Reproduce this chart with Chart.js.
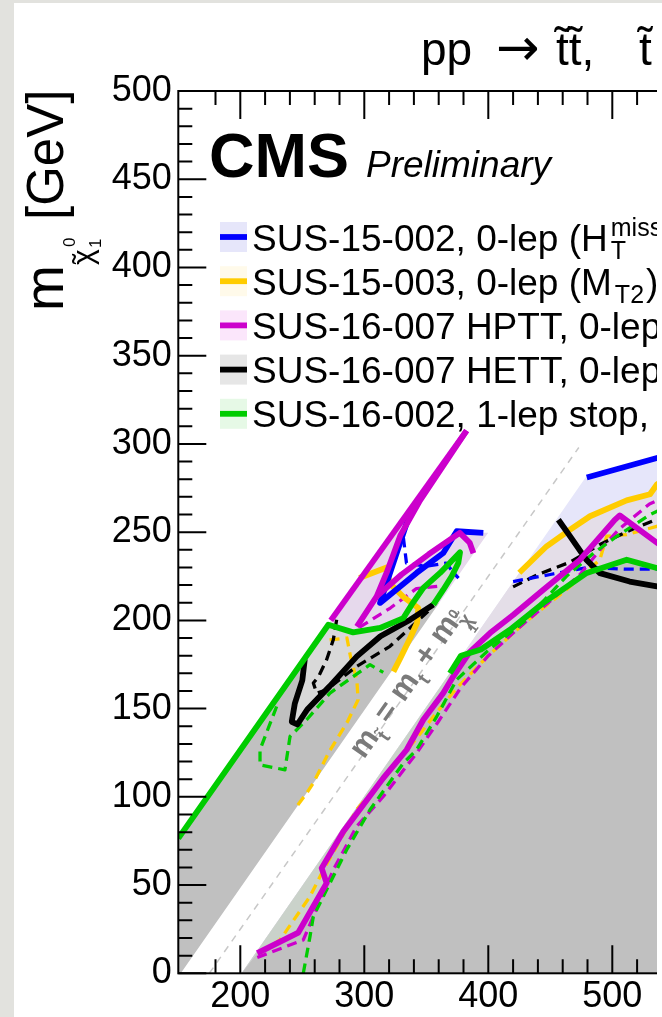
<!DOCTYPE html>
<html><head><meta charset="utf-8">
<script src="https://cdn.jsdelivr.net/npm/chart.js@4.4.0/dist/chart.umd.min.js"></script>
<style>
html,body{margin:0;padding:0;background:#e2e2de;width:662px;height:1017px;overflow:hidden;}
#paper{position:absolute;left:14px;top:3px;width:648px;height:1014px;background:#fff;}
#clip{position:absolute;left:0;top:0;width:657px;height:1017px;overflow:hidden;}
#c{position:absolute;left:0;top:0;}
</style></head><body>
<div id="paper"></div>
<div id="clip"><canvas id="c" width="720" height="1017"></canvas></div>
<script>
// ---------------- axis ranges and tick labels ----------------
const xRange = [150, 560];
const yRange = [0, 500];
const xTickLabels = [200, 300, 400, 500];
const yTickLabels = [0, 50, 100, 150, 200, 250, 300, 350, 400, 450, 500];

// ---------------- contours (m_stop, m_LSP) ----------------
// SUS-15-002 (blue)
const blueObsLeftX = [332, 334.2, 312.7, 342.2, 363.7, 374.5, 396];
const blueObsLeftY = [258, 255.2, 209.9, 226.9, 238.2, 250.5, 249.6];
const blueObsRightX = [479.4, 536, 560];
const blueObsRightY = [281, 292, 297];
const blueExpLeftX = [331.5, 334, 350, 366, 372, 376];
const blueExpLeftY = [247, 232.5, 230.7, 232.5, 227, 224];
const blueExpRightX = [420, 450, 480, 512, 536, 560];
const blueExpRightY = [222, 226, 230, 229, 229, 229];
// SUS-15-003 (yellow)
const yelObsLeftX = [296, 318, 320.5, 332, 343.6, 342.5, 337, 329, 323.5];
const yelObsLeftY = [224, 230, 221, 213, 207, 198.5, 190, 178.5, 171];
const yelObsRightX = [425, 447, 466, 482, 511.6, 530.4, 536, 560];
const yelObsRightY = [227, 242, 251.4, 259, 268, 271.5, 277, 288];
const yelExpLeftX = [272, 286, 289, 294, 295, 286, 272, 259, 253.5, 246];
const yelExpLeftY = [189, 190, 179, 166, 155, 142, 126, 108, 102, 95];
const yelExpRightX = [215.9, 232, 256.2, 267, 277.7, 293.8, 310, 326, 342, 358, 375, 400, 430, 463, 490, 495.5, 511.6, 535.8, 560];
const yelExpRightY = [11.4, 18.9, 43.5, 58.6, 71.9, 92.7, 105.9, 119.1, 133, 147.5, 162, 180, 199, 217.4, 234.4, 247.7, 248.6, 253.3, 258];
// SUS-16-007 HPTT (magenta)
const magObsOuterX = [273, 382.5];
const magObsOuterY = [200, 307.5];
const magObsInnerX = [382.5, 345, 329, 318, 310, 294];
const magObsInnerY = [307.5, 268, 248, 227, 213.6, 196.5];
const magObsBranchX = [310, 330, 352, 377, 385, 388];
const magObsBranchY = [213.6, 226, 237.5, 249.6, 244, 238];
const magObsRightX = [213.7, 246.8, 269.6, 265.6, 283.1, 299.2, 315.3, 334.2, 347.6, 363.7, 371.8, 385, 401.4, 420, 444.4, 474, 502, 506, 536, 560];
const magObsRightY = [11.4, 23.1, 51.1, 59.6, 80.4, 95.5, 110.6, 126.7, 143.7, 158.8, 168.3, 182, 192.8, 203, 217.4, 234.4, 257, 259.5, 244, 232];
const magExpLeftX = [296, 321, 342, 361];
const magExpLeftY = [196, 207, 218, 219.5];
const magExpRightX = [213.7, 250.8, 258.9, 275, 293.8, 315.3, 342.2, 360, 378, 400, 425, 450, 474, 490, 506, 530, 560];
const magExpRightY = [9, 18.9, 32.2, 58.6, 83.2, 100.2, 124.8, 143, 162, 180, 196, 211, 226, 240, 252, 266, 275];
// SUS-16-007 HETT (black)
const blkObsLeftX = [252, 250, 244, 241.5, 246, 254, 272, 294, 313, 337, 355.7];
const blkObsLeftY = [178, 166, 153, 142.5, 141, 149.5, 162.6, 179.6, 191, 200.4, 208.9];
const blkObsRightX = [456.5, 466, 479, 490, 514, 536, 560];
const blkObsRightY = [257, 247.6, 234.4, 226.8, 222, 219.3, 217];
const blkExpLeftX = [277.7, 275, 269.6, 263, 258.9, 261.6, 269.6, 293.8, 320.7, 353];
const blkExpLeftY = [200.3, 189, 177.7, 168, 164.5, 158.8, 160.7, 173.9, 185.3, 206.1];
const blkExpRightX = [420, 440, 466, 490, 514, 533, 560];
const blkExpRightY = [219, 226, 233, 243, 251, 256.5, 262];
// SUS-16-002 (green)
const grnObsLeftX = [150, 271, 291, 312.7, 331.5, 338.2, 347.6, 361.1, 377.2, 375.8, 370.5, 363.7, 355.7];
const grnObsLeftY = [76.5, 197.5, 193.2, 195.7, 201.3, 208.9, 218.4, 226.9, 238.6, 232.5, 225, 217.4, 208.9];
const grnObsRightX = [369, 378, 394, 417.5, 444.4, 479.4, 511.6, 535.8, 560];
const grnObsRightY = [170, 180, 183.5, 194.7, 209.9, 226.9, 234.4, 229.7, 226];
const grnExpLeftX = [229.3, 215.9, 215.9, 236, 240.1, 253.5, 272.3, 304.6, 315.3];
const grnExpLeftY = [151.2, 126.7, 118.1, 115.3, 134.2, 143.7, 158.8, 174.9, 170.5];
const grnExpRightX = [250.8, 256.2, 258.9, 269.6, 285.8, 304.6, 331.5, 342.2, 358, 374.5, 400, 430, 463, 485, 503.5, 530.4, 560];
const grnExpRightY = [0, 20.8, 32.2, 47.3, 70, 92.7, 119.1, 126.7, 145, 166.4, 183, 200, 225, 238.2, 247.6, 259.9, 270];
// m_stop = m_top + m_LSP
const diagX = [175, 473];
const diagY = [0, 298];

// ---------------- filled areas ----------------
const fillBlueX = [201, 478.4, 536, 560, 560];
const fillBlueY = [0, 281, 292, 297, 0];
const fillYelX = [201, 425, 447, 466, 482, 511.6, 530.4, 536, 560, 560];
const fillYelY = [0, 227, 242, 251.4, 259, 268, 271.5, 277, 288, 0];
const fillMagX = [201].concat(magObsRightX, [560]);
const fillMagY = [0].concat(magObsRightY, [0]);
const fillStripX = [201, 370.8, 371.8, 363.7, 347.6, 334.2, 315.3, 299.2, 283.1, 265.6, 269.6, 246.8, 213.7];
const fillStripY = [0, 172, 168.3, 158.8, 143.7, 126.7, 110.6, 95.5, 80.4, 59.6, 51.1, 23.1, 11.4];
const fillGreyRX = [201, 213.7, 246.8, 269.6, 265.6, 283.1, 299.2, 315.3, 334.2, 347.6, 363.7, 371.8, 378, 394, 417.5, 444.4, 479.4, 511.6, 535.8, 560, 560];
const fillGreyRY = [0, 11.4, 23.1, 51.1, 59.6, 80.4, 95.5, 110.6, 126.7, 143.7, 158.8, 168.3, 180, 183.5, 194.7, 209.9, 226.9, 234.4, 229.7, 226, 0];
const fillSpikeX = [252, 273, 382.5, 345, 329, 318, 310, 330, 352, 377, 385, 399.9, 360.5];
const fillSpikeY = [178, 200, 307.5, 268, 248, 227, 213.6, 226, 237.5, 249.6, 249.7, 249.6, 210];
const fillLightX = [252, 271, 291, 312.7, 331.5, 338.2, 347.6, 361.1, 377.2, 375.8, 370.5, 363.7, 355.7, 337, 313, 294, 272, 254, 246, 241.5, 244];
const fillLightY = [178, 197.5, 193.2, 195.7, 201.3, 208.9, 218.4, 226.9, 238.6, 232.5, 225, 217.4, 208.9, 200.4, 191, 179.6, 162.6, 149.5, 141, 142.5, 153];
const fillDarkX = [150, 152, 360.5, 355.7, 337, 313, 294, 272, 254, 246, 241.5, 244, 250, 252, 150];
const fillDarkY = [0, 0, 210, 208.9, 200.4, 191, 179.6, 162.6, 149.5, 141, 142.5, 153, 166, 178, 76.5];

// ---------------- legend ----------------
const legendLabels = [
  ['SUS-15-002, 0-lep (H', 'T', 'miss', '), 2.3 fb⁻¹'],
  ['SUS-15-003, 0-lep (M', 'T2', '', '), 2.3 fb⁻¹'],
  ['SUS-16-007 HPTT, 0-lep stop, 12.9 fb⁻¹', '', '', ''],
  ['SUS-16-007 HETT, 0-lep stop, 12.9 fb⁻¹', '', '', ''],
  ['SUS-16-002, 1-lep stop, 12.9 fb⁻¹', '', '', '']
];
const legendLine = ['#0000ff', '#ffcc00', '#cc00cc', '#000000', '#00cc00'];
const legendFill = ['#e6e6fa', '#fffaea', '#fbe6fb', '#e6e6e6', '#e6f9e6'];

// ---------------- build datasets ----------------
const FONT = '"Liberation Sans", Arial, Helvetica, sans-serif';
function pts(xs, ys) { return xs.map((v, i) => ({x: v, y: ys[i]})); }
function lineDs(xs, ys, color, w, dashed, order) {
  return {data: pts(xs, ys), borderColor: color, borderWidth: w, borderDash: dashed ? [10, 6] : [],
    pointRadius: 0, fill: false, tension: 0, order: order, borderJoinStyle: 'round', borderCapStyle: 'butt'};
}
function fillDs(xs, ys, color, order) {
  return {data: pts(xs, ys), borderColor: 'rgba(0,0,0,0)', borderWidth: 0, backgroundColor: color,
    pointRadius: 0, fill: 'shape', tension: 0, order: order};
}
const OBS = 5.8, EXP = 3.3;
const datasets = [
  fillDs(fillBlueX, fillBlueY, '#e6e6fa', 30),
  fillDs(fillYelX, fillYelY, '#e4dee8', 29),
  fillDs(fillMagX, fillMagY, '#d9d2dc', 28),
  fillDs(fillStripX, fillStripY, '#cad2ca', 27),
  fillDs(fillGreyRX, fillGreyRY, '#c0c0c0', 26),
  fillDs(fillSpikeX, fillSpikeY, '#e6d9ec', 25),
  fillDs(fillLightX, fillLightY, '#d9d9d9', 24),
  fillDs(fillDarkX, fillDarkY, '#c0c0c0', 23),
  Object.assign(lineDs(diagX, diagY, '#c8c8c8', 1.5, false, 22), {borderDash: [7, 6]}),
  lineDs(blueExpLeftX, blueExpLeftY, '#0000ff', EXP, true, 12),
  lineDs(blueExpRightX, blueExpRightY, '#0000ff', EXP, true, 12),
  lineDs(yelExpLeftX, yelExpLeftY, '#ffcc00', EXP, true, 13),
  lineDs(yelExpRightX, yelExpRightY, '#ffcc00', EXP, true, 13),
  lineDs(magExpLeftX, magExpLeftY, '#cc00cc', EXP, true, 11),
  lineDs(magExpRightX, magExpRightY, '#cc00cc', EXP, true, 11),
  lineDs(blkExpLeftX, blkExpLeftY, '#000000', EXP, true, 12),
  lineDs(blkExpRightX, blkExpRightY, '#000000', EXP, true, 12),
  lineDs(grnExpLeftX, grnExpLeftY, '#00cc00', EXP, true, 10),
  lineDs(grnExpRightX, grnExpRightY, '#00cc00', EXP, true, 10),
  lineDs(yelObsLeftX, yelObsLeftY, '#ffcc00', OBS, false, 8),
  lineDs(yelObsRightX, yelObsRightY, '#ffcc00', OBS, false, 8),
  lineDs(blueObsLeftX, blueObsLeftY, '#0000ff', OBS, false, 7),
  lineDs(blueObsRightX, blueObsRightY, '#0000ff', OBS, false, 7),
  lineDs(blkObsLeftX, blkObsLeftY, '#000000', OBS, false, 6),
  lineDs(blkObsRightX, blkObsRightY, '#000000', OBS, false, 6),
  lineDs(magObsOuterX, magObsOuterY, '#cc00cc', OBS, false, 5),
  lineDs(magObsInnerX, magObsInnerY, '#cc00cc', OBS, false, 5),
  lineDs(magObsBranchX, magObsBranchY, '#cc00cc', OBS, false, 5),
  lineDs(magObsRightX, magObsRightY, '#cc00cc', OBS, false, 5),
  lineDs(grnObsLeftX, grnObsLeftY, '#00cc00', OBS, false, 4),
  lineDs(grnObsRightX, grnObsRightY, '#00cc00', OBS, false, 4)
];

// ---------------- text helpers ----------------
function fontOf(p) { return (p.style || '') + ' ' + p.size + 'px ' + (p.family || FONT); }
function drawRuns(ctx, x0, y0, parts) {
  let x = x0;
  for (const p of parts) {
    ctx.font = fontOf(p);
    const px = (p.at !== undefined) ? x0 + p.at : x;
    ctx.fillText(p.t, px, y0 + (p.dy || 0));
    const w = ctx.measureText(p.t).width;
    if (!p.stack) x = px + w;
  }
  return x - x0;
}
function measureRuns(ctx, parts) {
  let w = 0;
  for (const p of parts) { ctx.font = fontOf(p); if (!p.stack) w += ctx.measureText(p.t).width; }
  return w;
}

const decor = {
  id: 'decor',
  afterDatasetsDraw(chart) {
    const {ctx, chartArea: a, scales: {x, y}} = chart;
    ctx.save();
    // band label
    const cx = x.getPixelForValue(333), cy = y.getPixelForValue(165);
    const ang = -Math.atan2(y.getPixelForValue(0) - y.getPixelForValue(100), x.getPixelForValue(100) - x.getPixelForValue(0));
    ctx.translate(cx, cy); ctx.rotate(ang);
    ctx.fillStyle = '#7a7a7a'; ctx.textBaseline = 'alphabetic';
    const band = [
      {t: 'm', size: 31, style: 'bold'}, {t: 't̃', size: 20, dy: 9, style: 'bold'},
      {t: ' = m', size: 31, style: 'bold'}, {t: 't', size: 20, dy: 9, style: 'bold'},
      {t: ' + m', size: 31, style: 'bold'}, {t: '0', size: 14, dy: -6, style: 'bold', stack: true},
      {t: 'χ̃', size: 20, dy: 9, style: 'bold', stack: true}, {t: '1', size: 14, dy: 18, style: 'bold'}
    ];
    const bw = measureRuns(ctx, band);
    drawRuns(ctx, -bw / 2, 11, band);
    ctx.restore();

    // frame and inward ticks
    ctx.save();
    ctx.strokeStyle = '#000'; ctx.lineWidth = 2;
    ctx.strokeRect(a.left, a.top, a.right - a.left, a.bottom - a.top);
    ctx.beginPath();
    for (const t of x.ticks) {
      const v = t.value; if (v % 20 !== 0) continue;
      const px = x.getPixelForValue(v); const len = v % 100 === 0 ? 28 : 14;
      ctx.moveTo(px, a.bottom); ctx.lineTo(px, a.bottom - len);
      ctx.moveTo(px, a.top); ctx.lineTo(px, a.top + len);
    }
    for (const t of y.ticks) {
      const v = t.value; if (v % 10 !== 0) continue;
      const py = y.getPixelForValue(v); const len = v % 50 === 0 ? 28 : 14;
      ctx.moveTo(a.left, py); ctx.lineTo(a.left + len, py);
      ctx.moveTo(a.right, py); ctx.lineTo(a.right - len, py);
    }
    ctx.stroke();

    // legend
    ctx.textBaseline = 'alphabetic';
    legendLabels.forEach((lab, i) => {
      const cyL = 237 + i * 44.2;
      ctx.fillStyle = legendFill[i];
      ctx.fillRect(220, cyL - 15, 27, 30);
      ctx.strokeStyle = legendLine[i]; ctx.lineWidth = 5.8;
      ctx.beginPath(); ctx.moveTo(220, cyL); ctx.lineTo(247, cyL); ctx.stroke();
      ctx.fillStyle = '#000';
      const base = cyL + 13.5;
      if (lab[1] || lab[2]) {
        const w0 = measureRuns(ctx, [{t: lab[0], size: 37}]);
        const sw = Math.max(measureRuns(ctx, [{t: lab[1], size: 25}]), measureRuns(ctx, [{t: lab[2], size: 25}]));
        drawRuns(ctx, 252, base, [{t: lab[0], size: 37}]);
        if (lab[2]) drawRuns(ctx, 252 + w0 + 3, base - 15, [{t: lab[2], size: 25}]);
        drawRuns(ctx, 252 + w0 + 3, base + 8, [{t: lab[1], size: 25}]);
        drawRuns(ctx, 252 + w0 + sw + 5, base, [{t: lab[3], size: 37}]);
      } else {
        drawRuns(ctx, 252, base, [{t: lab[0], size: 37}]);
      }
    });

    // CMS Preliminary
    ctx.fillStyle = '#000';
    drawRuns(ctx, 209, 177, [{t: 'CMS', size: 63, style: 'bold'}]);
    drawRuns(ctx, 366, 177, [{t: 'Preliminary', size: 37, style: 'italic'}]);
    ctx.restore();
  },
  afterDraw(chart) {
    const ctx = chart.ctx;
    ctx.save();
    ctx.fillStyle = '#000'; ctx.textBaseline = 'alphabetic';
    // title
    drawRuns(ctx, 421, 65, [
      {t: 'pp', size: 46},
      {t: '→', size: 52, family: '"DejaVu Sans", sans-serif', at: 75},
      {t: 't̃t̃,', size: 46, at: 135},
      {t: 't̃', size: 46, at: 218},
      {t: '→', size: 52, family: '"DejaVu Sans", sans-serif', at: 260},
      {t: 't χ̃', size: 46, at: 320}, {t: '0', size: 28, dy: -20, stack: true}, {t: '1', size: 28, dy: 10}
    ]);
    // y title (rotated)
    ctx.translate(63, 311); ctx.rotate(-Math.PI / 2);
    drawRuns(ctx, 0, 0, [
      {t: 'm', size: 55},
      {t: 'χ', size: 30, dy: 30, at: 46},
      {t: '˜', size: 30, dy: 30, at: 47},
      {t: '0', size: 17, dy: 12, at: 64},
      {t: '1', size: 17, dy: 38, at: 63},
      {t: '[GeV]', size: 51, at: 91}
    ]);
    ctx.restore();
  }
};

new Chart(document.getElementById('c'), {
  type: 'line',
  data: {datasets: datasets},
  options: {
    responsive: false, animation: false, events: [],
    layout: {padding: {top: 91, right: 33.3, left: 0, bottom: 0}},
    plugins: {legend: {display: false}, tooltip: {enabled: false}},
    scales: {
      x: {type: 'linear', min: xRange[0], max: xRange[1], position: 'bottom',
        grid: {display: false, drawTicks: false}, border: {display: false},
        ticks: {stepSize: 20, autoSkip: false, maxRotation: 0, minRotation: 0, padding: 2, color: '#000',
          font: {family: FONT, size: 36}, callback: v => xTickLabels.includes(v) ? String(v) : ''},
        afterFit: s => { s.height = 43.7; }},
      y: {type: 'linear', min: yRange[0], max: yRange[1],
        grid: {display: false, drawTicks: false}, border: {display: false},
        ticks: {stepSize: 10, autoSkip: false, padding: 6.6, color: '#000',
          font: {family: FONT, size: 36}, callback: v => yTickLabels.includes(v) ? String(v) : ''},
        afterFit: s => { s.width = 178.3; }}
    }
  },
  plugins: [decor]
});
</script></body></html>
